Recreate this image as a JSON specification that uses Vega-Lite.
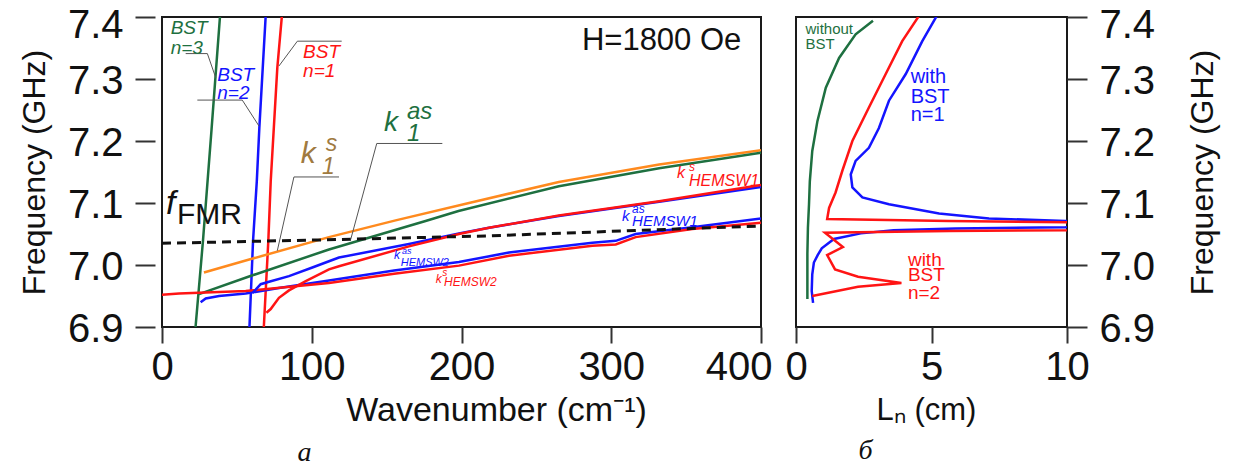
{
  "$schema": "https://vega.github.io/schema/vega-lite/v6.json",
  "background": "white",
  "padding": {"left": 17, "top": 4, "right": 5, "bottom": 5},
  "bounds": "flush",
  "spacing": 35,
  "config": {
    "font": "Liberation Sans",
    "view": {"stroke": "#1a1a1a", "strokeWidth": 2},
    "axis": {"grid": false, "domain": false, "labelFont": "Liberation Sans", "titleFont": "Liberation Sans", "labelColor": "#111", "titleColor": "#111", "tickColor": "#333", "tickWidth": 2, "titleFontWeight": "normal", "labelFlush": false, "labelOverlap": false}
  },
  "datasets": {
    "left": [
      {"s": "g3", "x": 22.4, "y": 6.9}, {"s": "g3", "x": 27.4, "y": 7.04}, {"s": "g3", "x": 33.1, "y": 7.219}, {"s": "g3", "x": 38.7, "y": 7.4},
      {"s": "b2", "x": 58.4, "y": 6.9}, {"s": "b2", "x": 60.8, "y": 7.039}, {"s": "b2", "x": 63.3, "y": 7.135}, {"s": "b2", "x": 65.0, "y": 7.221}, {"s": "b2", "x": 69.2, "y": 7.4},
      {"s": "r1", "x": 68.0, "y": 6.9}, {"s": "r1", "x": 71.0, "y": 7.039}, {"s": "r1", "x": 72.6, "y": 7.135}, {"s": "r1", "x": 77.0, "y": 7.318}, {"s": "r1", "x": 80.0, "y": 7.4},
      {"s": "orange", "x": 28, "y": 6.988}, {"s": "orange", "x": 60, "y": 7.010}, {"s": "orange", "x": 111.5, "y": 7.045}, {"s": "orange", "x": 156, "y": 7.072}, {"s": "orange", "x": 205, "y": 7.100}, {"s": "orange", "x": 265, "y": 7.134}, {"s": "orange", "x": 332, "y": 7.162}, {"s": "orange", "x": 400, "y": 7.185},
      {"s": "green", "x": 24.7, "y": 6.953}, {"s": "green", "x": 60, "y": 6.983}, {"s": "green", "x": 111.5, "y": 7.025}, {"s": "green", "x": 176, "y": 7.071}, {"s": "green", "x": 198, "y": 7.087}, {"s": "green", "x": 265, "y": 7.127}, {"s": "green", "x": 332, "y": 7.156}, {"s": "green", "x": 400, "y": 7.181},
      {"s": "bL", "x": 25.8, "y": 6.940}, {"s": "bL", "x": 29.2, "y": 6.946}, {"s": "bL", "x": 38.1, "y": 6.950}, {"s": "bL", "x": 55.9, "y": 6.954}, {"s": "bL", "x": 78.1, "y": 6.963}, {"s": "bL", "x": 100.4, "y": 6.971}, {"s": "bL", "x": 111.5, "y": 6.975}, {"s": "bL", "x": 155, "y": 6.991}, {"s": "bL", "x": 198.3, "y": 7.005}, {"s": "bL", "x": 231.7, "y": 7.020}, {"s": "bL", "x": 287.4, "y": 7.036}, {"s": "bL", "x": 303, "y": 7.039}, {"s": "bL", "x": 316.3, "y": 7.050}, {"s": "bL", "x": 354.1, "y": 7.061}, {"s": "bL", "x": 400, "y": 7.075},
      {"s": "rL", "x": 0, "y": 6.952}, {"s": "rL", "x": 11.4, "y": 6.954}, {"s": "rL", "x": 55.9, "y": 6.958}, {"s": "rL", "x": 111.5, "y": 6.971}, {"s": "rL", "x": 155, "y": 6.986}, {"s": "rL", "x": 198.3, "y": 6.999}, {"s": "rL", "x": 231.7, "y": 7.015}, {"s": "rL", "x": 287.4, "y": 7.031}, {"s": "rL", "x": 303, "y": 7.033}, {"s": "rL", "x": 316.3, "y": 7.045}, {"s": "rL", "x": 354.1, "y": 7.058}, {"s": "rL", "x": 400, "y": 7.068},
      {"s": "bU", "x": 60.5, "y": 6.955}, {"s": "bU", "x": 62.1, "y": 6.959}, {"s": "bU", "x": 65.9, "y": 6.969}, {"s": "bU", "x": 71.5, "y": 6.973}, {"s": "bU", "x": 84.8, "y": 6.982}, {"s": "bU", "x": 100.4, "y": 6.996}, {"s": "bU", "x": 111.5, "y": 7.006}, {"s": "bU", "x": 118.2, "y": 7.012}, {"s": "bU", "x": 164.9, "y": 7.034}, {"s": "bU", "x": 198.3, "y": 7.051}, {"s": "bU", "x": 218.4, "y": 7.060}, {"s": "bU", "x": 265, "y": 7.079}, {"s": "bU", "x": 332, "y": 7.102}, {"s": "bU", "x": 400, "y": 7.126},
      {"s": "rU", "x": 69.7, "y": 6.923}, {"s": "rU", "x": 72.6, "y": 6.929}, {"s": "rU", "x": 78.1, "y": 6.947}, {"s": "rU", "x": 84.8, "y": 6.959}, {"s": "rU", "x": 96.0, "y": 6.974}, {"s": "rU", "x": 111.5, "y": 6.993}, {"s": "rU", "x": 118.2, "y": 6.998}, {"s": "rU", "x": 164.9, "y": 7.030}, {"s": "rU", "x": 198.3, "y": 7.050}, {"s": "rU", "x": 218.4, "y": 7.060}, {"s": "rU", "x": 265, "y": 7.080}, {"s": "rU", "x": 332, "y": 7.103}, {"s": "rU", "x": 400, "y": 7.129}
    ],
    "fmr": [{"x": 0, "y": 7.035}, {"x": 116, "y": 7.041}, {"x": 218, "y": 7.047}, {"x": 400, "y": 7.063}],
    "leaders": [
      {"x": 15.8, "y": 7.341, "x2": 30.3, "y2": 7.341}, {"x": 30.3, "y": 7.341, "x2": 35.9, "y2": 7.302},
      {"x": 23.6, "y": 7.266, "x2": 53.6, "y2": 7.266}, {"x": 53.6, "y": 7.266, "x2": 64.8, "y2": 7.224},
      {"x": 78.1, "y": 7.321, "x2": 90.4, "y2": 7.361}, {"x": 90.4, "y": 7.361, "x2": 120, "y2": 7.361},
      {"x": 88.1, "y": 7.142, "x2": 118.2, "y2": 7.142}, {"x": 88.1, "y": 7.142, "x2": 77.0, "y2": 7.023},
      {"x": 143.4, "y": 7.196, "x2": 187.2, "y2": 7.196}, {"x": 143.4, "y": 7.196, "x2": 126.0, "y2": 7.041}
    ],
    "right": [
      {"s": "gw", "x": 0.42, "y": 6.945}, {"s": "gw", "x": 0.42, "y": 7.018}, {"s": "gw", "x": 0.44, "y": 7.06}, {"s": "gw", "x": 0.48, "y": 7.098}, {"s": "gw", "x": 0.51, "y": 7.135}, {"s": "gw", "x": 0.60, "y": 7.184}, {"s": "gw", "x": 0.79, "y": 7.232}, {"s": "gw", "x": 1.10, "y": 7.286}, {"s": "gw", "x": 1.59, "y": 7.334}, {"s": "gw", "x": 2.20, "y": 7.372}, {"s": "gw", "x": 2.84, "y": 7.394},
      {"s": "bn1", "x": 0.63, "y": 6.939}, {"s": "bn1", "x": 0.58, "y": 6.958}, {"s": "bn1", "x": 0.60, "y": 6.985}, {"s": "bn1", "x": 0.66, "y": 7.004}, {"s": "bn1", "x": 0.80, "y": 7.016}, {"s": "bn1", "x": 0.95, "y": 7.027}, {"s": "bn1", "x": 1.40, "y": 7.042}, {"s": "bn1", "x": 2.39, "y": 7.051}, {"s": "bn1", "x": 3.6, "y": 7.056}, {"s": "bn1", "x": 5.89, "y": 7.059}, {"s": "bn1", "x": 9.95, "y": 7.061}, {"s": "bn1", "x": 11, "y": 7.066}, {"s": "bn1", "x": 9.95, "y": 7.071}, {"s": "bn1", "x": 7.12, "y": 7.075}, {"s": "bn1", "x": 5.28, "y": 7.083}, {"s": "bn1", "x": 3.43, "y": 7.098}, {"s": "bn1", "x": 2.45, "y": 7.109}, {"s": "bn1", "x": 2.08, "y": 7.125}, {"s": "bn1", "x": 2.02, "y": 7.146}, {"s": "bn1", "x": 2.20, "y": 7.168}, {"s": "bn1", "x": 2.69, "y": 7.189}, {"s": "bn1", "x": 3.06, "y": 7.221}, {"s": "bn1", "x": 3.43, "y": 7.265}, {"s": "bn1", "x": 4.05, "y": 7.308}, {"s": "bn1", "x": 4.66, "y": 7.361}, {"s": "bn1", "x": 5.21, "y": 7.403},
      {"s": "rn2", "x": 0.60, "y": 6.950}, {"s": "rn2", "x": 2.29, "y": 6.965}, {"s": "rn2", "x": 3.89, "y": 6.971}, {"s": "rn2", "x": 2.29, "y": 6.981}, {"s": "rn2", "x": 1.44, "y": 6.993}, {"s": "rn2", "x": 1.15, "y": 7.016}, {"s": "rn2", "x": 1.73, "y": 7.029}, {"s": "rn2", "x": 1.07, "y": 7.052}, {"s": "rn2", "x": 5.65, "y": 7.055}, {"s": "rn2", "x": 10.0, "y": 7.056}, {"s": "rn2", "x": 12, "y": 7.062}, {"s": "rn2", "x": 10.0, "y": 7.069}, {"s": "rn2", "x": 5.65, "y": 7.071}, {"s": "rn2", "x": 1.15, "y": 7.074}, {"s": "rn2", "x": 1.22, "y": 7.092}, {"s": "rn2", "x": 1.46, "y": 7.117}, {"s": "rn2", "x": 1.71, "y": 7.152}, {"s": "rn2", "x": 2.08, "y": 7.200}, {"s": "rn2", "x": 2.69, "y": 7.254}, {"s": "rn2", "x": 3.31, "y": 7.308}, {"s": "rn2", "x": 3.92, "y": 7.361}, {"s": "rn2", "x": 4.54, "y": 7.402}
    ]
  },
  "hconcat": [
    {
      "width": 599,
      "height": 310,
      "title": {"text": "a", "orient": "bottom", "anchor": "middle", "dx": -157, "font": "Liberation Serif", "fontStyle": "italic", "fontSize": 28, "fontWeight": "normal", "color": "#111", "offset": 12},
      "encoding": {
        "x": {"field": "x", "type": "quantitative", "scale": {"domain": [0, 400], "nice": false, "zero": false},
          "axis": {"values": [0, 100, 200, 300, 400], "tickSize": 16, "offset": 0, "labelFontSize": 40, "labelPadding": 4, "labelFlush": true, "labelFlushOffset": 11, "title": "Wavenumber (cm⁻¹)", "titleX": 334, "titleFontSize": 34, "titlePadding": 6}},
        "y": {"field": "y", "type": "quantitative", "scale": {"domain": [6.9, 7.4], "nice": false, "zero": false},
          "axis": {"values": [6.9, 7.0, 7.1, 7.2, 7.3, 7.4], "format": ".1f", "tickSize": 20, "offset": 7, "labelFontSize": 40, "labelPadding": 12, "labelOffset": {"condition": {"test": "datum.value >= 7.39", "value": 8}, "value": 2}, "title": "Frequency (GHz)", "titleFontSize": 32, "titlePadding": 16}}
      },
      "layer": [
        {
          "data": {"name": "left"},
          "mark": {"type": "line", "strokeWidth": 2.5, "clip": true},
          "encoding": {
            "color": {"field": "s", "type": "nominal", "legend": null,
              "scale": {"domain": ["g3", "b2", "r1", "orange", "green", "bL", "rL", "bU", "rU"],
                        "range": ["#1e7040", "#1414ff", "#ff1414", "#ff8a1e", "#1e7040", "#1414ff", "#ff1414", "#1414ff", "#ff1414"]}}
          }
        },
        {
          "data": {"name": "fmr"},
          "mark": {"type": "line", "strokeWidth": 3, "color": "#111", "strokeDash": [9, 6], "clip": true},
          "encoding": {}
        },
        {
          "data": {"name": "leaders"},
          "mark": {"type": "rule", "color": "#555", "strokeWidth": 1},
          "encoding": {"x2": {"field": "x2"}, "y2": {"field": "y2"}}
        },
        {
          "data": {"values": [{"x": 280.4, "y": 7.347, "t": "H=1800 Oe"}]},
          "mark": {"type": "text", "fontSize": 31, "color": "#111", "align": "left", "baseline": "alphabetic"},
          "encoding": {"text": {"field": "t"}}
        },
        {
          "data": {"values": [{"x": 10.0, "y": 7.066, "t": "FMR"}]},
          "mark": {"type": "text", "fontSize": 30, "color": "#111", "align": "left", "baseline": "alphabetic"},
          "encoding": {"text": {"field": "t"}}
        },
        {
          "data": {"values": [{"x": 2.7, "y": 7.082, "t": "f"}]},
          "mark": {"type": "text", "fontSize": 34, "fontStyle": "italic", "color": "#111", "align": "left", "baseline": "alphabetic"},
          "encoding": {"text": {"field": "t"}}
        },
        {
          "data": {"values": [{"x": 5.8, "y": 7.372, "t": "BST"}, {"x": 5.8, "y": 7.340, "t": "n=3"}]},
          "mark": {"type": "text", "fontSize": 19, "fontStyle": "italic", "color": "#1e7040", "align": "left", "baseline": "alphabetic"},
          "encoding": {"text": {"field": "t"}}
        },
        {
          "data": {"values": [{"x": 36.9, "y": 7.297, "t": "BST"}, {"x": 36.9, "y": 7.268, "t": "n=2"}]},
          "mark": {"type": "text", "fontSize": 19, "fontStyle": "italic", "color": "#1414ff", "align": "left", "baseline": "alphabetic"},
          "encoding": {"text": {"field": "t"}}
        },
        {
          "data": {"values": [{"x": 94.2, "y": 7.334, "t": "BST"}, {"x": 94.2, "y": 7.303, "t": "n=1"}]},
          "mark": {"type": "text", "fontSize": 19, "fontStyle": "italic", "color": "#ff1414", "align": "left", "baseline": "alphabetic"},
          "encoding": {"text": {"field": "t"}}
        },
        {
          "data": {"values": [{"x": 92.6, "y": 7.165, "t": "k"}]},
          "mark": {"type": "text", "fontSize": 30, "fontStyle": "italic", "color": "#a07a40", "align": "left", "baseline": "alphabetic"},
          "encoding": {"text": {"field": "t"}}
        },
        {
          "data": {"values": [{"x": 109.3, "y": 7.184, "t": "s"}, {"x": 106.8, "y": 7.147, "t": "1"}]},
          "mark": {"type": "text", "fontSize": 23, "fontStyle": "italic", "color": "#a07a40", "align": "left", "baseline": "alphabetic"},
          "encoding": {"text": {"field": "t"}}
        },
        {
          "data": {"values": [{"x": 148.2, "y": 7.216, "t": "k"}]},
          "mark": {"type": "text", "fontSize": 28, "fontStyle": "italic", "color": "#1e7040", "align": "left", "baseline": "alphabetic"},
          "encoding": {"text": {"field": "t"}}
        },
        {
          "data": {"values": [{"x": 163.6, "y": 7.235, "t": "as"}, {"x": 163.6, "y": 7.2, "t": "1"}]},
          "mark": {"type": "text", "fontSize": 24, "fontStyle": "italic", "color": "#1e7040", "align": "left", "baseline": "alphabetic"},
          "encoding": {"text": {"field": "t"}}
        },
        {
          "data": {"values": [{"x": 343.9, "y": 7.140, "t": "k"}, {"x": 351.9, "y": 7.127, "t": "HEMSW1"}]},
          "mark": {"type": "text", "fontSize": 16, "fontStyle": "italic", "color": "#ff1414", "align": "left", "baseline": "alphabetic"},
          "encoding": {"text": {"field": "t"}}
        },
        {
          "data": {"values": [{"x": 351.9, "y": 7.152, "t": "s"}, {"x": 188.3, "y": 6.966, "t": "HEMSW2"}, {"x": 182.8, "y": 6.971, "t": "k"}]},
          "mark": {"type": "text", "fontSize": 12, "fontStyle": "italic", "color": "#ff1414", "align": "left", "baseline": "alphabetic"},
          "encoding": {"text": {"field": "t"}}
        },
        {
          "data": {"values": [{"x": 187.2, "y": 6.982, "t": "s"}]},
          "mark": {"type": "text", "fontSize": 10, "fontStyle": "italic", "color": "#ff1414", "align": "left", "baseline": "alphabetic"},
          "encoding": {"text": {"field": "t"}}
        },
        {
          "data": {"values": [{"x": 307.2, "y": 7.071, "t": "k"}, {"x": 313.9, "y": 7.063, "t": "HEMSW1"}]},
          "mark": {"type": "text", "fontSize": 15, "fontStyle": "italic", "color": "#1414ff", "align": "left", "baseline": "alphabetic"},
          "encoding": {"text": {"field": "t"}}
        },
        {
          "data": {"values": [{"x": 313.9, "y": 7.084, "t": "as"}, {"x": 154.9, "y": 7.010, "t": "k"}]},
          "mark": {"type": "text", "fontSize": 12, "fontStyle": "italic", "color": "#1414ff", "align": "left", "baseline": "alphabetic"},
          "encoding": {"text": {"field": "t"}}
        },
        {
          "data": {"values": [{"x": 159.4, "y": 6.998, "t": "HEMSW2"}]},
          "mark": {"type": "text", "fontSize": 11, "fontStyle": "italic", "color": "#1414ff", "align": "left", "baseline": "alphabetic"},
          "encoding": {"text": {"field": "t"}}
        },
        {
          "data": {"values": [{"x": 160.3, "y": 7.018, "t": "as"}]},
          "mark": {"type": "text", "fontSize": 9, "fontStyle": "italic", "color": "#1414ff", "align": "left", "baseline": "alphabetic"},
          "encoding": {"text": {"field": "t"}}
        }
      ]
    },
    {
      "width": 271,
      "height": 310,
      "title": {"text": "б", "orient": "bottom", "anchor": "middle", "dx": -66, "font": "Liberation Serif", "fontStyle": "italic", "fontSize": 28, "fontWeight": "normal", "color": "#111", "offset": 12},
      "encoding": {
        "x": {"field": "x", "type": "quantitative", "scale": {"domain": [0, 10], "nice": false, "zero": false},
          "axis": {"values": [0, 5, 10], "tickSize": 16, "offset": 0, "labelFontSize": 40, "labelPadding": 4, "title": "Lₙ (cm)", "titleX": 130, "titleFontSize": 31, "titlePadding": 8}},
        "y": {"field": "y", "type": "quantitative", "scale": {"domain": [6.9, 7.4], "nice": false, "zero": false},
          "axis": {"orient": "right", "values": [6.9, 7.0, 7.1, 7.2, 7.3, 7.4], "format": ".1f", "tickSize": 20, "offset": 0, "labelFontSize": 40, "labelPadding": 12, "labelOffset": {"condition": {"test": "datum.value >= 7.39", "value": 8}, "value": 2}, "title": "Frequency (GHz)", "titleAngle": 270, "titleBaseline": "top", "titleFontSize": 32, "titlePadding": 33}}
      },
      "layer": [
        {
          "data": {"name": "right"},
          "mark": {"type": "line", "strokeWidth": 2.5, "clip": true},
          "encoding": {
            "order": {"field": "y", "type": "quantitative"},
            "color": {"field": "s", "type": "nominal", "legend": null,
              "scale": {"domain": ["gw", "bn1", "rn2"], "range": ["#1e7040", "#1414ff", "#ff1414"]}}
          }
        },
        {
          "data": {"values": [{"x": 0.35, "y": 7.373, "t": "without"}, {"x": 0.35, "y": 7.348, "t": "BST"}]},
          "mark": {"type": "text", "fontSize": 15, "color": "#1e7040", "align": "left", "baseline": "alphabetic"},
          "encoding": {"text": {"field": "t"}}
        },
        {
          "data": {"values": [{"x": 4.23, "y": 7.294, "t": "with"}, {"x": 4.23, "y": 7.261, "t": "BST"}, {"x": 4.23, "y": 7.232, "t": "n=1"}]},
          "mark": {"type": "text", "fontSize": 20, "color": "#1414ff", "align": "left", "baseline": "alphabetic"},
          "encoding": {"text": {"field": "t"}}
        },
        {
          "data": {"values": [{"x": 4.13, "y": 6.998, "t": "with"}, {"x": 4.13, "y": 6.974, "t": "BST"}, {"x": 4.13, "y": 6.945, "t": "n=2"}]},
          "mark": {"type": "text", "fontSize": 19, "color": "#ff1414", "align": "left", "baseline": "alphabetic"},
          "encoding": {"text": {"field": "t"}}
        }
      ]
    }
  ]
}
